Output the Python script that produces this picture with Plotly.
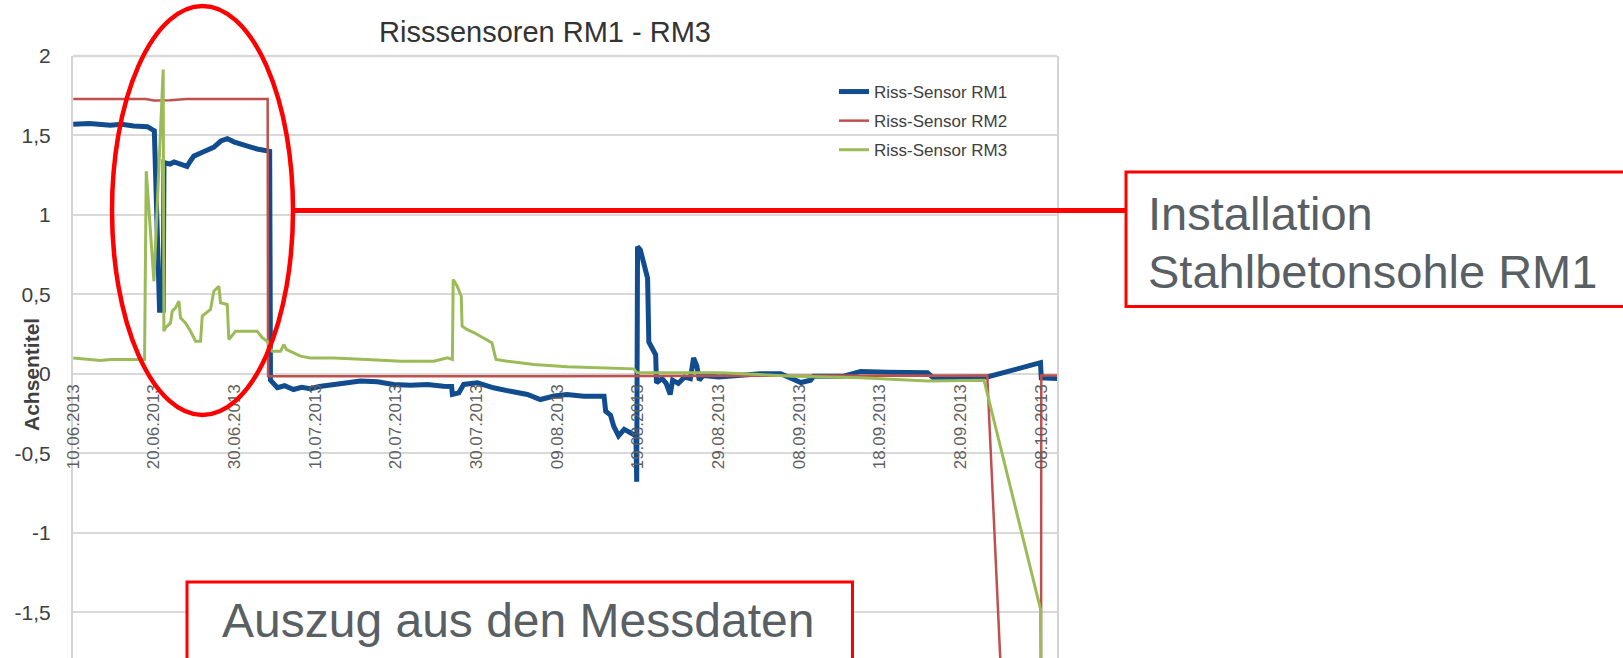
import pandas as pd
import plotly.graph_objects as go

# ---------------- data (days after 10.06.2013, sensor values) ----------------
BASE_DATE = "2013-06-10"

rm1_day = [0.0, 2.0, 4.6, 6.0, 7.5, 9.2, 9.8, 10.05, 10.7, 11.15, 11.25, 12.0, 12.5, 13.5, 14.1,
           14.5, 14.95, 15.8, 16.6, 17.4, 18.3, 19.1, 19.9, 20.7, 21.8, 22.8, 23.85, 24.35,
           24.45, 25.3, 26.2, 27.3, 28.3, 29.4, 30.5, 31.5, 33.5, 35.6, 37.7, 39.7, 41.8, 43.9,
           45.9, 46.9, 47.0, 47.8, 48.4, 50.1, 52.1, 53.0, 54.2, 56.3, 57.9, 59.6, 61.2, 63.3,
           65.8, 66.0, 66.6, 67.0, 67.6, 68.3, 69.1, 69.75, 69.85, 69.95, 70.3, 71.2, 71.35,
           71.9, 72.2, 72.3, 73.0, 73.5, 74.0, 74.3, 75.0, 75.8, 76.5, 76.9, 77.3, 77.6, 78.1,
           80.0, 83.6, 85.2, 87.7, 89.3, 90.2, 91.4, 91.8, 95.5, 97.6, 101.0, 105.9, 106.6,
           110.0, 113.3, 119.9, 120.0, 122.0]
rm1_val = [1.57, 1.575, 1.565, 1.57, 1.56, 1.555, 1.537, 1.53, 0.40, 0.40, 1.33, 1.32, 1.333,
           1.318, 1.305, 1.338, 1.37, 1.39, 1.405, 1.425, 1.465, 1.48, 1.46, 1.445, 1.43, 1.415,
           1.405, 1.40, -0.04, -0.088, -0.075, -0.099, -0.085, -0.094, -0.08, -0.072, -0.057,
           -0.046, -0.05, -0.067, -0.072, -0.067, -0.078, -0.08, -0.13, -0.12, -0.067, -0.057,
           -0.088, -0.095, -0.11, -0.13, -0.162, -0.14, -0.13, -0.141, -0.141, -0.235, -0.26,
           -0.33, -0.39, -0.35, -0.37, -0.39, -0.68, 0.80, 0.78, 0.60, 0.20, 0.15, 0.12, -0.057,
           -0.03, -0.06, -0.13, -0.04, -0.06, -0.02, -0.03, 0.10, 0.05, -0.04, -0.01, -0.02,
           -0.005, 0.0, 0.0, -0.04, -0.055, -0.04, -0.015, -0.015, 0.015, 0.01, 0.006, -0.025,
           -0.025, -0.02, 0.07, -0.025, -0.03]

rm2_day = [0.0, 5.0, 9.0, 10.0, 12.0, 14.0, 24.1, 24.15, 60.0, 113.3, 119.9, 120.0, 122.0]
rm2_val = [1.73, 1.73, 1.73, 1.72, 1.722, 1.73, 1.73, -0.015, -0.015, -0.01, -7.3, -0.01, -0.01]

rm3_day = [0.0, 3.4, 4.6, 8.84, 9.05, 10.0, 11.15, 11.24, 11.44, 12.06, 12.27, 12.68, 13.1, 13.3,
           13.92, 14.54, 15.16, 15.78, 15.99, 17.02, 17.43, 18.05, 18.26, 19.09, 19.29, 20.12,
           22.8, 23.43, 24.05, 24.67, 25.7, 26.1, 26.44, 27.35, 28.18, 29.4, 32.3, 36.4, 40.6,
           44.7, 46.4, 47.0, 47.1, 47.6, 48.1, 48.2, 48.8, 49.7, 50.7, 51.9, 52.4, 53.8, 57.1,
           61.2, 69.5, 69.9, 80.2, 89.3, 97.6, 105.9, 112.9, 119.9, 120.0, 122.0]
rm3_val = [0.10, 0.084, 0.09, 0.09, 1.275, 0.583, 1.915, 0.268, 0.29, 0.32, 0.394, 0.415, 0.457,
           0.352, 0.32, 0.268, 0.205, 0.205, 0.363, 0.405, 0.52, 0.551, 0.447, 0.436, 0.216,
           0.268, 0.268, 0.227, 0.205, 0.142, 0.142, 0.184, 0.153, 0.132, 0.111, 0.10, 0.10,
           0.09, 0.079, 0.079, 0.10, 0.09, 0.593, 0.551, 0.488, 0.30, 0.279, 0.258, 0.227, 0.195,
           0.09, 0.079, 0.059, 0.044, 0.031, 0.006, 0.006, -0.015, -0.025, -0.046, -0.04, -1.48,
           -2.6, -2.6]

series_names = ["Riss-Sensor RM1", "Riss-Sensor RM2", "Riss-Sensor RM3"]

tick_dates = ["2013-06-10", "2013-06-20", "2013-06-30", "2013-07-10", "2013-07-20", "2013-07-30",
              "2013-08-09", "2013-08-19", "2013-08-29", "2013-09-08", "2013-09-18", "2013-09-28",
              "2013-10-08"]
tick_labels = ["10.06.2013", "20.06.2013", "30.06.2013", "10.07.2013", "20.07.2013", "30.07.2013",
               "09.08.2013", "19.08.2013", "29.08.2013", "08.09.2013", "18.09.2013", "28.09.2013",
               "08.10.2013"]

y_ticks = [-1.5, -1.0, -0.5, 0.0, 0.5, 1.0, 1.5, 2.0]
y_labels = ["-1,5", "-1", "-0,5", "0", "0,5", "1", "1,5", "2"]

# ---------------- layout geometry ----------------
W, H = 1623, 658
ML, MR, MT, MB = 73, 566, 56, 0
PW, PH = W - ML - MR, H - MT - MB
Y_MAX = 2.0
Y_MIN = Y_MAX - PH / 158.9
X_START = -0.03
X_END = X_START + PW / 8.067


def px(x):
    return (x - ML) / PW


def py(y):
    return (H - MB - y) / PH


base = pd.Timestamp(BASE_DATE)


def to_dates(days):
    return base + pd.to_timedelta(days, unit="D")


FONT = "Liberation Sans, Arial, sans-serif"

fig = go.Figure()
colors = ["#114c8e", "#c0504d", "#9bbb59"]
widths = [5, 2.5, 3]
for name, d, v, c, w in zip(series_names, [rm1_day, rm2_day, rm3_day],
                            [rm1_val, rm2_val, rm3_val], colors, widths):
    fig.add_trace(go.Scatter(x=to_dates(d), y=v, mode="lines", name=name, legendgroup=name,
                             line=dict(color=c, width=w), hoverinfo="skip"))

x_pos = (0 - Y_MIN) / (Y_MAX - Y_MIN)

fig.update_layout(
    width=W, height=H,
    margin=dict(l=ML, r=MR, t=MT, b=MB, pad=0, autoexpand=False),
    paper_bgcolor="white", plot_bgcolor="white",
    font=dict(family=FONT),
    showlegend=True,
    legend=dict(x=px(834), y=py(74), xanchor="left", yanchor="top",
                bgcolor="rgba(0,0,0,0)", font=dict(size=17, color="#404040", family=FONT),
                tracegroupgap=4, itemwidth=30),
    xaxis=dict(type="date", range=[to_dates([X_START])[0], to_dates([X_END])[0]],
               anchor="free", position=x_pos, tickvals=tick_dates, ticktext=tick_labels,
               tickangle=-90, showgrid=False, zeroline=False, showline=False, ticks="",
               ticklabelstandoff=6, automargin=False,
               tickfont=dict(size=17, color="#5f5f5f", family=FONT)),
    yaxis=dict(range=[Y_MIN, Y_MAX], tickvals=y_ticks, ticktext=y_labels, showgrid=True,
               gridcolor="#d9d9d9", gridwidth=2, zeroline=False, showline=True,
               linecolor="#d3d3d3", linewidth=2, mirror=True, ticks="",
               ticklabelstandoff=16, automargin=False,
               tickfont=dict(size=21, color="#404040", family=FONT)),
)

shapes = []
# plot top border
shapes.append(dict(type="line", xref="paper", yref="paper", x0=0, x1=1, y0=1, y1=1,
                   line=dict(color="#d9d9d9", width=2.5)))
# white backing of legend (covers grid line like the original)
shapes.append(dict(type="rect", xref="paper", yref="paper", x0=px(788), x1=px(1043),
                   y0=py(165), y1=py(70), fillcolor="white", line=dict(width=0),
                   layer="between"))
# red ellipse
shapes.append(dict(type="circle", xref="paper", yref="paper", x0=px(112), x1=px(293),
                   y0=py(415), y1=py(6), line=dict(color="#ff0000", width=4.5)))
# connector line
shapes.append(dict(type="line", xref="paper", yref="paper", x0=px(294), x1=px(1126),
                   y0=py(210.5), y1=py(210.5), line=dict(color="#ff0000", width=5)))
# installation box
shapes.append(dict(type="rect", xref="paper", yref="paper", x0=px(1126), x1=px(1640),
                   y0=py(306.5), y1=py(172), fillcolor="white",
                   line=dict(color="#ff0000", width=3)))
# Auszug box
shapes.append(dict(type="rect", xref="paper", yref="paper", x0=px(187), x1=px(852.5),
                   y0=py(680), y1=py(582), fillcolor="white",
                   line=dict(color="#ff0000", width=3)))
fig.update_layout(shapes=shapes)

ann = []
ann.append(dict(text="Risssensoren RM1 - RM3", xref="paper", yref="paper", x=px(545), y=py(32),
                xanchor="center", yanchor="middle", showarrow=False,
                font=dict(size=29, color="#333333", family=FONT)))
ann.append(dict(text="<b>Achsentitel</b>", xref="paper", yref="paper", x=px(31), y=py(375),
                xanchor="center", yanchor="middle", showarrow=False, textangle=-90,
                font=dict(size=21, color="#404040", family=FONT)))
ann.append(dict(text="Installation", xref="paper", yref="paper", x=px(1146), y=py(213),
                xanchor="left", yanchor="middle", showarrow=False,
                font=dict(size=47, color="#596064", family=FONT)))
ann.append(dict(text="Stahlbetonsohle RM1", xref="paper", yref="paper", x=px(1146), y=py(271),
                xanchor="left", yanchor="middle", showarrow=False,
                font=dict(size=47, color="#596064", family=FONT)))
ann.append(dict(text="Auszug aus den Messdaten", xref="paper", yref="paper", x=px(518),
                y=py(620), xanchor="center", yanchor="middle", showarrow=False,
                font=dict(size=48, color="#596064", family=FONT)))
fig.update_layout(annotations=ann)

fig.write_html("out.html", config={"displayModeBar": False},
               post_script="document.body.style.margin='0px';document.body.style.padding='0px';")
